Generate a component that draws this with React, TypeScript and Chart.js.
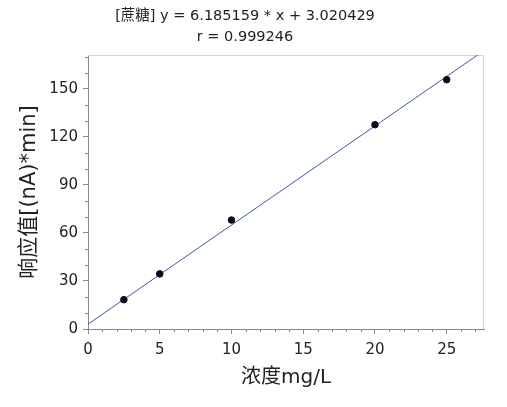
import React, { useEffect, useRef } from "react";
import { Chart, registerables } from "chart.js";

Chart.register(...registerables);

// ---- data ----
const concentrations = [2.5, 5, 10, 20, 25];
const responses = [18.3, 34.4, 68.0, 127.5, 155.6];
const fitSlope = 6.185159;
const fitIntercept = 3.020429;
const fitR = 0.999246;
const fitRangeX = [0, 27.6];
const compoundName = "蔗糖";
const xTitle = "浓度mg/L";
const yTitle = "响应值[(nA)*min]";
const xMin = 0, xMax = 27.6, xStep = 5, xMinorStep = 1;
const yMin = 0, yMax = 171, yStep = 30, yMinorStep = 10;

const FONT = '"DejaVu Sans", "Noto Sans CJK SC", sans-serif';

const framePlugin = {
  id: "frameAndMinor",
  beforeDatasetsDraw(chart: any) {
    const { ctx, chartArea } = chart;
    ctx.save();
    ctx.strokeStyle = "#d4d4d4";
    ctx.lineWidth = 1;
    ctx.beginPath();
    ctx.moveTo(chartArea.left, chartArea.top + 0.5);
    ctx.lineTo(chartArea.right - 0.5, chartArea.top + 0.5);
    ctx.lineTo(chartArea.right - 0.5, chartArea.bottom);
    ctx.stroke();
    ctx.restore();
  },
  afterDraw(chart: any) {
    const { ctx, chartArea } = chart;
    const xs = chart.scales.x;
    const ys = chart.scales.y;
    ctx.save();
    ctx.strokeStyle = "#8a8a8a";
    ctx.lineWidth = 1;
    ctx.beginPath();
    for (let v = xMin; v <= xMax + 1e-9; v += xMinorStep) {
      if (Math.abs(v / xStep - Math.round(v / xStep)) < 1e-9) continue;
      const px = Math.round(xs.getPixelForValue(v)) + 0.5;
      ctx.moveTo(px, chartArea.bottom);
      ctx.lineTo(px, chartArea.bottom + 3);
    }
    for (let v = yMin; v <= yMax + 1e-9; v += yMinorStep) {
      if (Math.abs(v / yStep - Math.round(v / yStep)) < 1e-9) continue;
      const py = Math.round(ys.getPixelForValue(v)) + 0.5;
      ctx.moveTo(chartArea.left, py);
      ctx.lineTo(chartArea.left - 3, py);
    }
    ctx.stroke();

    // title (two lines)
    ctx.fillStyle = "#222";
    ctx.font = `14.5px ${FONT}`;
    ctx.textAlign = "center";
    ctx.textBaseline = "middle";
    const cx = 245;
    ctx.fillText(`[${compoundName}] y = ${fitSlope.toFixed(6)} * x + ${fitIntercept.toFixed(6)}`, cx, 16);
    ctx.fillText(`r = ${fitR.toFixed(6)}`, cx, 37);
    ctx.restore();
  },
};

export default function App() {
  const ref = useRef<HTMLCanvasElement | null>(null);
  useEffect(() => {
    if (!ref.current) return;
    const fitPoints = fitRangeX.map((x) => ({ x, y: fitSlope * x + fitIntercept }));
    const pts = concentrations.map((x, i) => ({ x, y: responses[i] }));
    const chart = new Chart(ref.current, {
      type: "scatter",
      data: {
        datasets: [
          {
            type: "line",
            data: fitPoints,
            borderColor: "#3d5aa8",
            borderWidth: 1,
            pointRadius: 0,
            fill: false,
            order: 2,
          } as any,
          {
            type: "scatter",
            data: pts,
            backgroundColor: "#0d0d1a",
            borderColor: "#0d0d1a",
            pointRadius: 3.3,
            order: 1,
          },
        ],
      },
      options: {
        animation: false,
        responsive: false,
        devicePixelRatio: 1,
        layout: { padding: { left: 0, right: 23, top: 55, bottom: 0 } },
        plugins: { legend: { display: false }, tooltip: { enabled: false }, title: { display: false } },
        scales: {
          x: {
            type: "linear",
            min: xMin,
            max: xMax,
            afterFit(scale: any) { scale.height = 78; },
            ticks: { stepSize: xStep, includeBounds: false, color: "#222", font: { family: FONT, size: 15 }, padding: 7, maxRotation: 0 },
            grid: { drawOnChartArea: false, tickLength: 5, color: "#8a8a8a" },
            border: { color: "#8a8a8a" },
            title: { display: true, text: xTitle, color: "#222", font: { family: FONT, size: 20 }, padding: { top: 0, bottom: 17 } },
          },
          y: {
            type: "linear",
            min: yMin,
            max: yMax,
            afterFit(scale: any) { scale.width = 88; },
            ticks: { stepSize: yStep, includeBounds: false, color: "#222", font: { family: FONT, size: 15 }, padding: 5 },
            grid: { drawOnChartArea: false, tickLength: 5, color: "#8a8a8a" },
            border: { color: "#8a8a8a" },
            title: { display: true, text: yTitle, color: "#222", font: { family: FONT, size: 21 }, padding: { top: 17, bottom: 0 } },
          },
        },
      },
      plugins: [framePlugin],
    });
    return () => chart.destroy();
  }, []);
  return (
    <div style={{ position: "fixed", left: 0, top: 0, width: 507, height: 407, background: "#fff" }}>
      <canvas ref={ref} width={507} height={407} />
    </div>
  );
}
